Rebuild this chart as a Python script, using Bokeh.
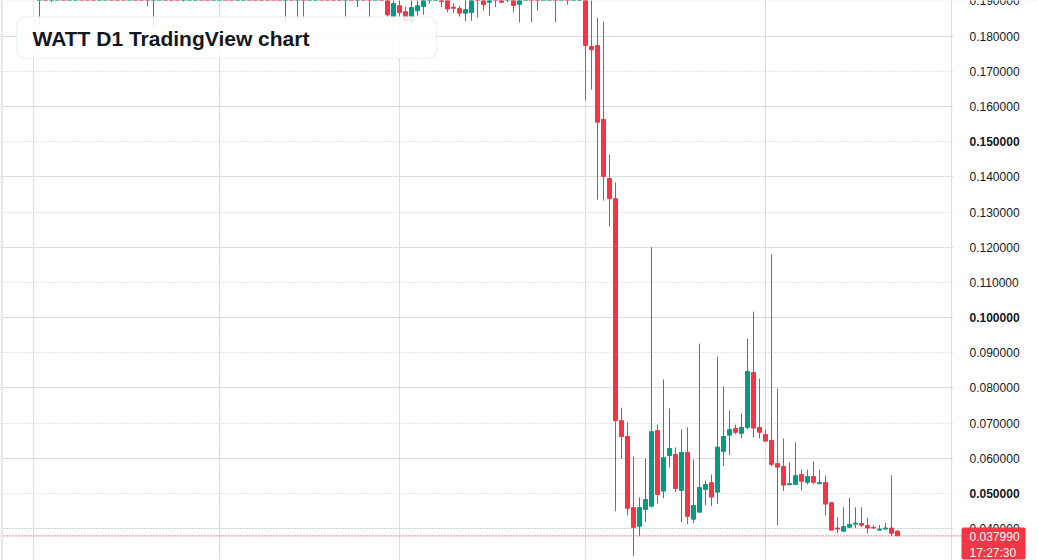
import pandas as pd
from bokeh.plotting import figure
from bokeh.models import (Range1d, FixedTicker, Grid, Label, BoxAnnotation, ColumnDataSource)
from bokeh.core.properties import value
from bokeh.embed import file_html
from bokeh.resources import INLINE

# ---------------- data (WATT, daily candles, 2024-03-02 .. 2024-07-23) ----------------
dates = pd.date_range("2024-03-02", periods=144, freq="D")

opens = [
    0.2000, 0.2150, 0.2080, 0.2190, 0.2320, 0.2230, 0.2360, 0.2510,
    0.2420, 0.2310, 0.2220, 0.2290, 0.2400, 0.2330, 0.2180, 0.2120,
    0.2200, 0.2150, 0.2040, 0.1970, 0.2090, 0.2170, 0.2130, 0.2050,
    0.2010, 0.2110, 0.2230, 0.2340, 0.2290, 0.2200, 0.2260, 0.2370,
    0.2280, 0.2160, 0.2210, 0.2300, 0.2200, 0.2110, 0.2080, 0.2040,
    0.2000, 0.1980, 0.2060, 0.2020, 0.2110, 0.2000, 0.2080, 0.2170,
    0.2100, 0.2050, 0.2010, 0.1990, 0.2070, 0.2010, 0.2090, 0.2030,
    0.1960, 0.2010, 0.1970, 0.1855, 0.1886, 0.1869, 0.1842, 0.1872,
    0.1884, 0.1910, 0.1945, 0.1970, 0.1915, 0.1882, 0.1878, 0.1865,
    0.1867, 0.1950, 0.1935, 0.1896, 0.1945, 0.1925, 0.1915, 0.1940,
    0.1890, 0.1960, 0.1985, 0.1945, 0.1920, 0.1970, 0.2010, 0.1955,
    0.1985, 0.1935, 0.1960, 0.1985, 0.1770, 0.1773, 0.1563, 0.1395,
    0.1338, 0.0707, 0.0662, 0.0460, 0.0407, 0.0455, 0.0464, 0.0679,
    0.0507, 0.0608, 0.0611, 0.0509, 0.0617, 0.0427, 0.0447, 0.0512,
    0.0531, 0.0504, 0.0620, 0.0666, 0.0685, 0.0671, 0.0688, 0.0844,
    0.0688, 0.0668, 0.0651, 0.0585, 0.0577, 0.0525, 0.0526, 0.0554,
    0.0532, 0.0548, 0.0528, 0.0531, 0.0474, 0.0402, 0.0393, 0.0404,
    0.0413, 0.0415, 0.0409, 0.0404, 0.0396, 0.0399, 0.0402, 0.0393,
]
highs = [
    0.2240, 0.2310, 0.2260, 0.2380, 0.2450, 0.2410, 0.2590, 0.2640,
    0.2500, 0.2400, 0.2350, 0.2470, 0.2520, 0.2390, 0.2280, 0.2240,
    0.2330, 0.2210, 0.2120, 0.2150, 0.2230, 0.2290, 0.2200, 0.2130,
    0.2160, 0.2280, 0.2390, 0.2480, 0.2360, 0.2310, 0.2420, 0.2450,
    0.2330, 0.2250, 0.2350, 0.2380, 0.2260, 0.2190, 0.2170, 0.2120,
    0.2090, 0.2110, 0.2150, 0.2170, 0.2190, 0.2140, 0.2230, 0.2260,
    0.2180, 0.2110, 0.2080, 0.2120, 0.2140, 0.2150, 0.2160, 0.2090,
    0.2050, 0.2070, 0.2020, 0.1925, 0.1915, 0.1884, 0.1905, 0.1903,
    0.1925, 0.1960, 0.2010, 0.2000, 0.1935, 0.1893, 0.1886, 0.1906,
    0.1935, 0.1990, 0.1960, 0.1960, 0.1985, 0.1950, 0.1975, 0.1965,
    0.1975, 0.2020, 0.2030, 0.1990, 0.1995, 0.2040, 0.2060, 0.2010,
    0.2020, 0.1990, 0.2030, 0.2015, 0.1915, 0.1852, 0.1841, 0.1463,
    0.1384, 0.0744, 0.0702, 0.0605, 0.0489, 0.0599, 0.1200, 0.0696,
    0.0824, 0.0742, 0.0631, 0.0682, 0.0688, 0.0597, 0.0926, 0.0537,
    0.0554, 0.0889, 0.0804, 0.0736, 0.0696, 0.0727, 0.0940, 0.1017,
    0.0827, 0.0682, 0.1179, 0.0798, 0.0656, 0.0588, 0.0645, 0.0568,
    0.0568, 0.0591, 0.0568, 0.0551, 0.0475, 0.0433, 0.0461, 0.0487,
    0.0461, 0.0461, 0.0430, 0.0410, 0.0410, 0.0416, 0.0552, 0.0396,
]
lows = [
    0.1832, 0.2020, 0.1896, 0.2110, 0.2180, 0.2150, 0.2300, 0.2380,
    0.2260, 0.2170, 0.2090, 0.2230, 0.2280, 0.2140, 0.2050, 0.2010,
    0.2100, 0.1990, 0.1884, 0.1824, 0.2010, 0.2080, 0.2000, 0.1960,
    0.1898, 0.2050, 0.2170, 0.2260, 0.2150, 0.2120, 0.2190, 0.2240,
    0.2110, 0.2060, 0.2150, 0.2170, 0.2070, 0.2010, 0.1990, 0.1950,
    0.1930, 0.1838, 0.1980, 0.1844, 0.1849, 0.1960, 0.2030, 0.2060,
    0.2010, 0.1960, 0.1940, 0.1849, 0.1970, 0.1882, 0.1990, 0.1852,
    0.1920, 0.1930, 0.1855, 0.1843, 0.1850, 0.1838, 0.1836, 0.1858,
    0.1861, 0.1893, 0.1925, 0.1882, 0.1867, 0.1865, 0.1855, 0.1842,
    0.1844, 0.1853, 0.1872, 0.1858, 0.1882, 0.1894, 0.1896, 0.1867,
    0.1839, 0.1925, 0.1839, 0.1872, 0.1910, 0.1940, 0.1839, 0.1920,
    0.1889, 0.1912, 0.1935, 0.1617, 0.1648, 0.1335, 0.1332, 0.1259,
    0.0450, 0.0599, 0.0438, 0.0322, 0.0379, 0.0419, 0.0461, 0.0471,
    0.0487, 0.0574, 0.0504, 0.0419, 0.0413, 0.0416, 0.0447, 0.0466,
    0.0464, 0.0470, 0.0578, 0.0609, 0.0669, 0.0657, 0.0683, 0.0660,
    0.0657, 0.0648, 0.0578, 0.0410, 0.0507, 0.0524, 0.0526, 0.0509,
    0.0526, 0.0526, 0.0528, 0.0438, 0.0396, 0.0387, 0.0393, 0.0402,
    0.0402, 0.0404, 0.0387, 0.0399, 0.0396, 0.0399, 0.0379, 0.03799,
]
closes = [
    0.2150, 0.2080, 0.2190, 0.2320, 0.2230, 0.2360, 0.2510, 0.2420,
    0.2310, 0.2220, 0.2290, 0.2400, 0.2330, 0.2180, 0.2120, 0.2200,
    0.2150, 0.2040, 0.1970, 0.2090, 0.2170, 0.2130, 0.2050, 0.2010,
    0.2110, 0.2230, 0.2340, 0.2290, 0.2200, 0.2260, 0.2370, 0.2280,
    0.2160, 0.2210, 0.2300, 0.2200, 0.2110, 0.2080, 0.2040, 0.2000,
    0.1980, 0.2060, 0.2020, 0.2110, 0.2000, 0.2080, 0.2170, 0.2100,
    0.2050, 0.2010, 0.1990, 0.2070, 0.2010, 0.2090, 0.2030, 0.1960,
    0.2010, 0.1970, 0.1860, 0.1892, 0.1867, 0.1841, 0.1881, 0.1886,
    0.1912, 0.1945, 0.1970, 0.1898, 0.1877, 0.1879, 0.1865, 0.1875,
    0.1915, 0.1925, 0.1889, 0.1940, 0.1915, 0.1896, 0.1950, 0.1887,
    0.1960, 0.1985, 0.1945, 0.1920, 0.1970, 0.2010, 0.1955, 0.1985,
    0.1935, 0.1960, 0.1990, 0.1773, 0.1761, 0.1555, 0.1401, 0.1338,
    0.0707, 0.0662, 0.0458, 0.0404, 0.0460, 0.0483, 0.0676, 0.0497,
    0.0602, 0.0628, 0.0514, 0.0617, 0.0435, 0.0466, 0.0517, 0.0526,
    0.0490, 0.0632, 0.0662, 0.0682, 0.0674, 0.0688, 0.0847, 0.0686,
    0.0674, 0.0649, 0.0583, 0.0575, 0.0524, 0.0528, 0.0551, 0.0535,
    0.0548, 0.0532, 0.0531, 0.0470, 0.0396, 0.0399, 0.0406, 0.0412,
    0.0416, 0.0410, 0.0402, 0.0402, 0.0399, 0.0402, 0.0387, 0.03799,
]

grid_ticks = [round(0.03 + 0.01 * i, 2) for i in range(18)]    # 0.03 .. 0.20
label_ticks = [round(0.04 + 0.01 * i, 2) for i in range(16)]   # 0.04 .. 0.19
bold_ticks = [0.05, 0.10, 0.15]
month_starts = pd.date_range("2024-02-01", "2024-09-01", freq="MS")
title_text = "WATT D1 TradingView chart"
last_price = 0.03799
last_price_text = "0.037990"
countdown_text = "17:27:30"

UP, DOWN = "#089981", "#f23645"
TXT = "#131722"
GRID = "#c9cdd5"
FONT = "Liberation Sans"

assert len(opens) == len(highs) == len(lows) == len(closes) == len(dates)

colors = [UP if c >= o else DOWN for o, c in zip(opens, closes)]
src = ColumnDataSource(dict(
    date=dates, open=opens, high=highs, low=lows, close=closes,
    top=[max(o, c) for o, c in zip(opens, closes)],
    bottom=[min(o, c) for o, c in zip(opens, closes)],
    color=colors,
))

# ---------------- layout / view ----------------
W, H = 1037, 560
PANE_W = 952            # chart pane; price scale occupies the rest
DAY = 86400000.0
PX_PER_DAY = 6.0
anchor = pd.Timestamp("2024-06-06").value / 1e6
x_start = anchor - (615.0 / PX_PER_DAY) * DAY
x_end = x_start + W / PX_PER_DAY * DAY
y_top, y_bottom = 0.1901, 0.03097


def px_x(px):
    return x_start + px / PX_PER_DAY * DAY


def px_y(py):
    return y_top - py * (y_top - y_bottom) / H


p = figure(width=W, height=H, output_backend="svg", toolbar_location=None,
           x_axis_type="datetime", x_axis_location=None, y_axis_location=None,
           x_range=Range1d(x_start, x_end), y_range=Range1d(y_bottom, y_top),
           min_border=0, background_fill_color="white",
           border_fill_color="white", tools="")
p.outline_line_color = None

# grids
p.add_layout(Grid(dimension=1, ticker=FixedTicker(ticks=grid_ticks),
                  grid_line_color=GRID, grid_line_dash="1 2", grid_line_width=1))
p.add_layout(Grid(dimension=0, ticker=FixedTicker(ticks=[d.value / 1e6 for d in month_starts]),
                  grid_line_color=GRID, grid_line_dash="1 2", grid_line_width=1))

# candles
p.segment(x0="date", y0="low", x1="date", y1="high", line_color="color",
          line_width=1, source=src)
p.vbar(x="date", width=4 / PX_PER_DAY * DAY, top="top", bottom="bottom",
       fill_color="color", line_color="color", line_width=1, source=src)

# price scale background (covers the grid right of the pane)
p.quad(left=[px_x(PANE_W + 1)], right=[x_end], top=[y_top], bottom=[y_bottom],
       fill_color="white", line_color=None)

# last price line
p.segment(x0=[x_start], x1=[px_x(961)], y0=[last_price], y1=[last_price],
          line_color=DOWN, line_dash="1 2", line_width=1.2)

# price scale labels
normal_ticks = [t for t in label_ticks if t not in bold_ticks]
p.text(x=[px_x(PANE_W + 17)] * len(normal_ticks), y=normal_ticks,
       text=[f"{t:.6f}" for t in normal_ticks], text_font=value(FONT),
       text_font_size="12px", text_color=TXT, text_baseline="middle", text_align="left")
p.text(x=[px_x(PANE_W + 17)] * len(bold_ticks), y=bold_ticks,
       text=[f"{t:.6f}" for t in bold_ticks], text_font=value(FONT),
       text_font_size="12px", text_font_style="bold", text_color=TXT,
       text_baseline="middle", text_align="left")

# left edge strip
p.add_layout(BoxAnnotation(left=x_start, right=px_x(2.5), fill_color="#e8e8ea",
                           fill_alpha=1, line_color=None))

# title box
p.add_layout(BoxAnnotation(left=px_x(16), right=px_x(436), top=px_y(16), bottom=px_y(58),
                           fill_color="white", fill_alpha=0.88, line_color="#c5d9f5",
                           line_width=1.5, border_radius=9))
p.add_layout(Label(x=px_x(32), y=px_y(37.5), text=title_text, text_font=FONT,
                   text_font_size="21px", text_font_style="bold", text_color=TXT,
                   text_baseline="middle", text_align="left"))

# last price badge (anchor = outer top-left corner of the badge)
p.add_layout(Label(x=px_x(961), y=px_y(527), text=last_price_text + "\n" + countdown_text,
                   text_font=FONT, text_font_size="12px", text_color="white",
                   text_baseline="top", text_align="left", text_line_height=1.15,
                   background_fill_color=DOWN, background_fill_alpha=1,
                   padding=dict(left=8, right=6, top=2, bottom=0), border_radius=2))

open("out.html", "w").write(file_html(p, INLINE))
